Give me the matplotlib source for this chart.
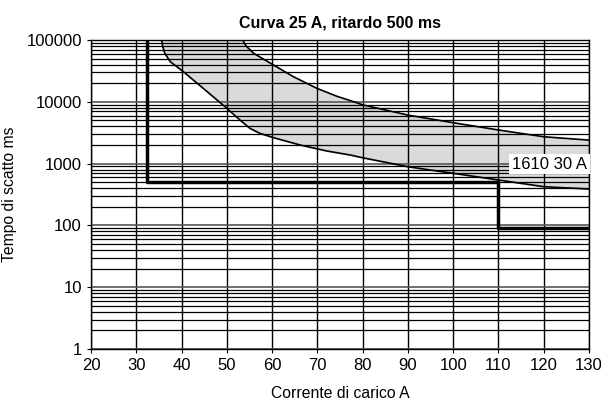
import numpy as np
import matplotlib.pyplot as plt
from matplotlib.ticker import LogLocator, FixedLocator, NullFormatter

# curve data
upper_x = [53.6, 53.8, 54.4, 55.9, 60.3, 64.7, 69.9, 74.3, 77.2, 80.1, 90.0, 100.0, 110.0, 120.0, 130.0]
upper_y = [100000, 90000, 78000, 61000, 39400, 25500, 16500, 12300, 10500, 8900, 6100, 4590, 3500, 2720, 2400]

lower_x = [35.6, 35.8, 36.3, 37.5, 40.4, 44.8, 50.0, 52.9, 55.1, 57.3, 60.3, 66.2, 72.1, 77.2,
           80.1, 90.0, 100.0, 110.0, 120.0, 130.0]
lower_y = [100000, 80000, 61000, 44600, 30700, 16500, 7850, 5080, 3720, 3090, 2630, 2000, 1600, 1380,
           1240, 890, 697, 543, 423, 388]

step_x = [32.3, 32.3, 110, 110, 130]
step_y = [100000, 500, 500, 92, 92]

x_ticks = [20, 30, 40, 50, 60, 70, 80, 90, 100, 110, 120, 130]
y_ticks = [1, 10, 100, 1000, 10000, 100000]
y_labels = ["1", "10", "100", "1000", "10000", "100000"]

plt.rcParams["font.family"] = ["Liberation Sans", "DejaVu Sans"]

fig = plt.figure(figsize=(6.04, 4.01), dpi=100)
ax = fig.add_axes([0.1507, 0.1297, 0.8245, 0.7705])

ax.set_yscale("log")
ax.set_xlim(20, 130)
ax.set_ylim(1, 100000)

# grid
ax.xaxis.set_major_locator(FixedLocator(x_ticks))
ax.yaxis.set_major_locator(FixedLocator(y_ticks))
ax.yaxis.set_minor_locator(LogLocator(base=10, subs=np.arange(2, 10)))
ax.yaxis.set_minor_formatter(NullFormatter())
ax.set_yticklabels(y_labels)
ax.grid(True, which="major", axis="x", color="black", linewidth=1.0)
ax.grid(True, which="major", axis="y", color="#555555", linewidth=1.2)
ax.grid(True, which="minor", axis="y", color="black", linewidth=0.9)

# shaded band between curves
xs = np.linspace(35.6, 130, 800)
lo = 10 ** np.interp(xs, lower_x, np.log10(lower_y))
hi = np.where(xs < 53.6, 100000, 10 ** np.interp(xs, upper_x, np.log10(upper_y)))
ax.fill_between(xs, lo, hi, color="#d9dadc", zorder=0.5)

ax.plot(upper_x, upper_y, color="black", linewidth=1.2, zorder=3)
ax.plot(lower_x, lower_y, color="black", linewidth=1.2, zorder=3)
ax.plot(step_x, step_y, color="black", linewidth=2.5, zorder=4)

ax.text(113.0, 980, "1610 30 A", fontsize=12, va="center", ha="left", zorder=5,
        bbox=dict(facecolor="white", edgecolor="none", pad=2))

for s in ax.spines.values():
    s.set_linewidth(1.0)
ax.tick_params(axis="both", which="major", labelsize=12, length=3, width=0.8)
ax.tick_params(axis="y", which="minor", length=0)

ax.set_title("Curva 25 A, ritardo 500 ms", fontsize=11.5, fontweight="bold", pad=9)
ax.set_xlabel("Corrente di carico A", fontsize=11.3, labelpad=9)
ax.set_ylabel("Tempo di scatto ms", fontsize=11.3)
ax.yaxis.set_label_coords(-0.148, 0.5)

fig.savefig("out.png", dpi=100)
